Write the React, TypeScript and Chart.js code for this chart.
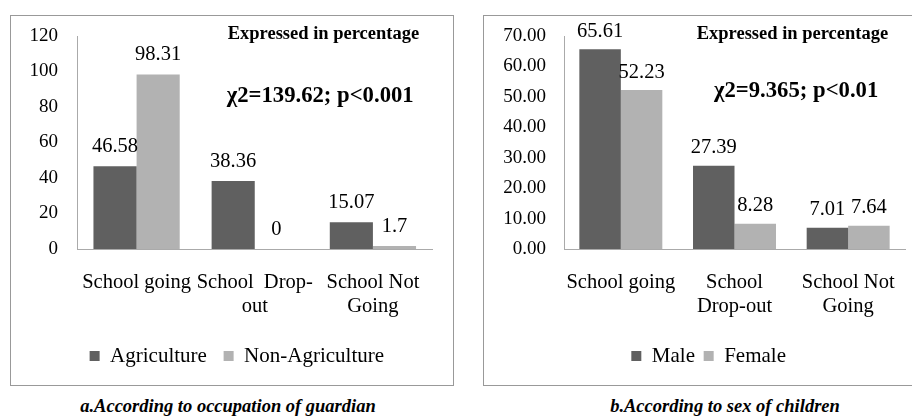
import { useEffect, useRef } from 'react';
import { Chart, registerables } from 'chart.js';

Chart.register(...registerables);

const FONT = '"Liberation Serif", "Times New Roman", Times, "DejaVu Serif", serif';
const TEXT = '#000000';
const DARK = '#606060';
const LIGHT = '#b2b2b2';
const AXIS = '#aaaaaa';

// Panel a: occupation of guardian
const occupationCategories = [['School going'], ['School  Drop-', 'out'], ['School Not', 'Going']];
const agricultureValues = [46.58, 38.36, 15.07];
const nonAgricultureValues = [98.31, 0, 1.7];
const occupationTicks = [0, 20, 40, 60, 80, 100, 120];
const occupationStat = 'χ2=139.62; p<0.001';

// Panel b: sex of children
const sexCategories = [['School going'], ['School', 'Drop-out'], ['School Not', 'Going']];
const maleValues = [65.61, 27.39, 7.01];
const femaleValues = [52.23, 8.28, 7.64];
const sexTicks = [0, 10, 20, 30, 40, 50, 60, 70];
const sexStat = 'χ2=9.365; p<0.01';

const NOTE = 'Expressed in percentage';

type PanelCfg = {
  categories: string[][];
  series: { label: string; data: number[]; color: string }[];
  ticks: number[];
  tickFormat: (v: number) => string;
  stat: string;
  pad: { left: number; right: number; top: number; bottom: number };
  yWidth: number;
  y2Width: number;
  yPad: number;
  xHeight: number;
  legendPad: number;
  labelGap: number;
  noteX: number;
  noteY: number;
  statX: number;
  statY: number;
};

function makeChart(canvas: HTMLCanvasElement, cfg: PanelCfg) {
  const overlay = {
    id: 'overlay',
    afterDatasetsDraw(chart: any) {
      const ctx = chart.ctx as CanvasRenderingContext2D;
      ctx.save();
      ctx.fillStyle = TEXT;
      ctx.font = `20.5px ${FONT}`;
      ctx.textAlign = 'center';
      ctx.textBaseline = 'alphabetic';
      chart.data.datasets.forEach((ds: any, i: number) => {
        const meta = chart.getDatasetMeta(i);
        meta.data.forEach((el: any, j: number) => {
          ctx.fillText(String(ds.data[j]), el.x, el.y - cfg.labelGap);
        });
      });
      ctx.textAlign = 'left';
      ctx.font = `bold 18.5px ${FONT}`;
      ctx.fillText(NOTE, cfg.noteX, cfg.noteY);
      ctx.font = `bold 22.7px ${FONT}`;
      ctx.fillText(cfg.stat, cfg.statX, cfg.statY);
      ctx.restore();
    },
  };

  return new Chart(canvas, {
    type: 'bar',
    data: {
      labels: cfg.categories,
      datasets: cfg.series.map((s) => ({
        label: s.label,
        data: s.data,
        backgroundColor: s.color,
        borderWidth: 0,
        categoryPercentage: 0.73,
        barPercentage: 1,
        yAxisID: 'y',
      })),
    },
    options: {
      responsive: false,
      animation: false,
      devicePixelRatio: 1,
      layout: { padding: cfg.pad },
      plugins: {
        tooltip: { enabled: false },
        legend: {
          position: 'bottom',
          labels: {
            boxWidth: 10,
            boxHeight: 10,
            padding: cfg.legendPad,
            color: TEXT,
            font: { family: FONT, size: 21 },
          },
        },
      },
      scales: {
        x: {
          grid: { display: false, drawTicks: false },
          border: { display: true, color: AXIS, width: 1 },
          ticks: {
            color: TEXT,
            font: { family: FONT, size: 20.5, lineHeight: '24px' },
            padding: 22,
            maxRotation: 0,
            minRotation: 0,
            autoSkip: false,
          },
          afterFit: (s: any) => {
            s.height = cfg.xHeight;
          },
        },
        y: {
          min: cfg.ticks[0],
          max: cfg.ticks[cfg.ticks.length - 1],
          grid: { display: false, drawTicks: false },
          border: { display: true, color: AXIS, width: 1 },
          ticks: {
            color: TEXT,
            font: { family: FONT, size: 19 },
            padding: cfg.yPad,
            callback: (v: any) => cfg.tickFormat(Number(v)),
          },
          afterBuildTicks: (s: any) => {
            s.ticks = cfg.ticks.map((v) => ({ value: v }));
          },
          afterFit: (s: any) => {
            s.width = cfg.yWidth;
            s.paddingTop = 0;
            s.paddingBottom = 0;
          },
        },
        y2: {
          position: 'right',
          display: true,
          min: cfg.ticks[0],
          max: cfg.ticks[cfg.ticks.length - 1],
          grid: { display: false, drawTicks: false },
          border: { display: false },
          ticks: { display: false },
          afterFit: (s: any) => {
            s.width = cfg.y2Width;
            s.paddingTop = 0;
            s.paddingBottom = 0;
          },
        },
      },
    },
    plugins: [overlay],
  } as any);
}

export default function App() {
  const leftRef = useRef<HTMLCanvasElement>(null);
  const rightRef = useRef<HTMLCanvasElement>(null);

  useEffect(() => {
    const a = makeChart(leftRef.current!, {
      categories: occupationCategories,
      series: [
        { label: 'Agriculture', data: agricultureValues, color: DARK },
        { label: 'Non-Agriculture', data: nonAgricultureValues, color: LIGHT },
      ],
      ticks: occupationTicks,
      tickFormat: (v) => String(v),
      stat: occupationStat,
      pad: { left: 9.7, right: 0, top: 20, bottom: 8.5 },
      yWidth: 56.8,
      y2Width: 21,
      yPad: 19.5,
      xHeight: 79.8,
      legendPad: 16.7,
      labelGap: 14,
      noteX: 216.7,
      noteY: 23,
      statX: 215.7,
      statY: 85.7,
    });
    const b = makeChart(rightRef.current!, {
      categories: sexCategories,
      series: [
        { label: 'Male', data: maleValues, color: DARK },
        { label: 'Female', data: femaleValues, color: LIGHT },
      ],
      ticks: sexTicks,
      tickFormat: (v) => v.toFixed(2),
      stat: sexStat,
      pad: { left: 14.3, right: 0, top: 20, bottom: 8.5 },
      yWidth: 65.7,
      y2Width: 14,
      yPad: 18,
      xHeight: 87.8,
      legendPad: 8.7,
      labelGap: 12.5,
      noteX: 212.7,
      noteY: 23,
      statX: 230,
      statY: 80.7,
    });
    return () => {
      a.destroy();
      b.destroy();
    };
  }, []);

  const caption: React.CSSProperties = {
    position: 'absolute',
    top: 396,
    fontFamily: FONT,
    fontWeight: 'bold',
    fontStyle: 'italic',
    fontSize: 18.5,
    color: TEXT,
    textAlign: 'center',
    whiteSpace: 'nowrap',
    lineHeight: '20px',
  };

  return (
    <div
      style={{
        position: 'absolute',
        left: 0,
        top: 0,
        width: 912,
        height: 418,
        overflow: 'hidden',
        background: '#ffffff',
      }}
    >
      <div
        style={{
          position: 'absolute',
          left: 10,
          top: 15,
          width: 444,
          height: 371,
          border: '1px solid #999999',
          boxSizing: 'border-box',
        }}
      />
      <div
        style={{
          position: 'absolute',
          left: 483,
          top: 15,
          width: 440,
          height: 371,
          border: '1px solid #999999',
          boxSizing: 'border-box',
        }}
      />
      <canvas
        ref={leftRef}
        width={442}
        height={369}
        style={{ position: 'absolute', left: 11, top: 16, width: 442, height: 369 }}
      />
      <canvas
        ref={rightRef}
        width={435}
        height={369}
        style={{ position: 'absolute', left: 484, top: 16, width: 435, height: 369 }}
      />
      <div style={{ ...caption, left: 28, width: 400 }}>a.According to occupation of guardian</div>
      <div style={{ ...caption, left: 525, width: 400 }}>b.According to sex of children</div>
    </div>
  );
}
